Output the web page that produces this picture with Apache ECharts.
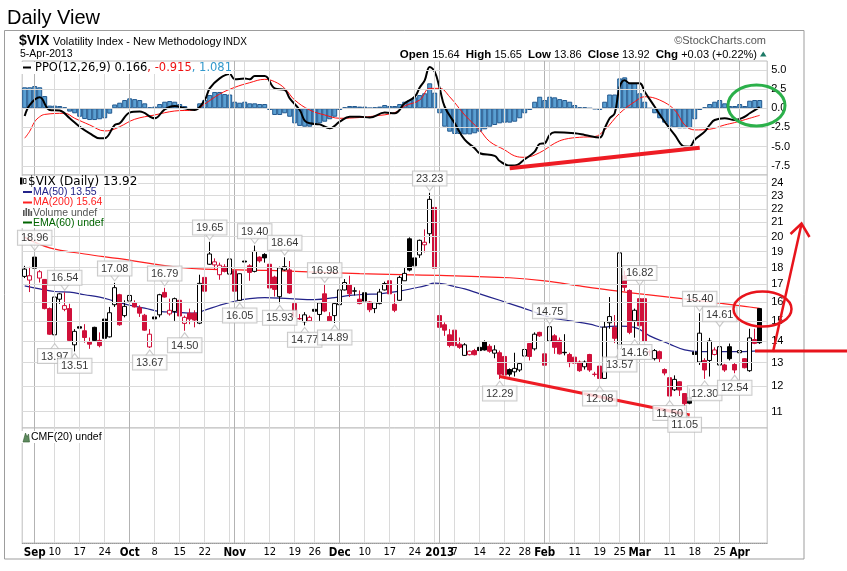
<!DOCTYPE html>
<html><head><meta charset="utf-8">
<script src="https://cdn.jsdelivr.net/npm/echarts@6/dist/echarts.min.js"></script>
<style>html,body{margin:0;padding:0;background:#fff}#c{width:847px;height:571px}</style>
</head><body><div id="c"></div><script>
// ---------- data ----------
const dates = ['2012-08-30','2012-08-31',
'2012-09-04','2012-09-05','2012-09-06','2012-09-07','2012-09-10','2012-09-11','2012-09-12','2012-09-13','2012-09-14','2012-09-17','2012-09-18','2012-09-19','2012-09-20','2012-09-21','2012-09-24','2012-09-25','2012-09-26','2012-09-27','2012-09-28',
'2012-10-01','2012-10-02','2012-10-03','2012-10-04','2012-10-05','2012-10-08','2012-10-09','2012-10-10','2012-10-11','2012-10-12','2012-10-15','2012-10-16','2012-10-17','2012-10-18','2012-10-19','2012-10-22','2012-10-23','2012-10-24','2012-10-25','2012-10-26','2012-10-31',
'2012-11-01','2012-11-02','2012-11-05','2012-11-06','2012-11-07','2012-11-08','2012-11-09','2012-11-12','2012-11-13','2012-11-14','2012-11-15','2012-11-16','2012-11-19','2012-11-20','2012-11-21','2012-11-23','2012-11-26','2012-11-27','2012-11-28','2012-11-29','2012-11-30',
'2012-12-03','2012-12-04','2012-12-05','2012-12-06','2012-12-07','2012-12-10','2012-12-11','2012-12-12','2012-12-13','2012-12-14','2012-12-17','2012-12-18','2012-12-19','2012-12-20','2012-12-21','2012-12-24','2012-12-26','2012-12-27','2012-12-28','2012-12-31',
'2013-01-02','2013-01-03','2013-01-04','2013-01-07','2013-01-08','2013-01-09','2013-01-10','2013-01-11','2013-01-14','2013-01-15','2013-01-16','2013-01-17','2013-01-18','2013-01-22','2013-01-23','2013-01-24','2013-01-25','2013-01-28','2013-01-29','2013-01-30','2013-01-31',
'2013-02-01','2013-02-04','2013-02-05','2013-02-06','2013-02-07','2013-02-08','2013-02-11','2013-02-12','2013-02-13','2013-02-14','2013-02-15','2013-02-19','2013-02-20','2013-02-21','2013-02-22','2013-02-25','2013-02-26','2013-02-27','2013-02-28',
'2013-03-01','2013-03-04','2013-03-05','2013-03-06','2013-03-07','2013-03-08','2013-03-11','2013-03-12','2013-03-13','2013-03-14','2013-03-15','2013-03-18','2013-03-19','2013-03-20','2013-03-21','2013-03-22','2013-03-25','2013-03-26','2013-03-27','2013-03-28',
'2013-04-01','2013-04-02','2013-04-03','2013-04-04','2013-04-05'];

const opens = [17.46,17.24,18.65,17.36,17.28,15.64,14.30,16.15,15.60,15.64,
 13.82,14.70,14.50,13.97,14.67,14.03,15.09,14.20,15.85,16.40,
 15.27,16.05,15.96,15.69,15.29,13.72,15.20,15.31,16.53,15.36,
 15.49,16.09,14.87,15.40,15.40,14.88,17.40,18.20,18.16,17.56,
 18.04,17.60,17.80,16.09,18.40,18.10,17.76,18.65,18.82,18.20,
 17.42,16.29,17.85,17.85,15.91,15.10,14.95,15.00,15.60,15.33,
 16.45,15.22,15.27,15.85,16.67,16.95,16.60,16.15,16.51,16.00,
 15.64,15.91,16.67,17.20,15.87,16.09,17.20,19.85,18.60,18.79,
 19.45,20.20,22.10,15.27,14.80,14.30,14.53,13.85,13.33,13.36,
 13.55,13.70,13.97,13.75,13.43,13.45,13.28,12.70,12.60,12.68,
 13.30,13.88,13.63,14.42,13.40,14.00,14.25,14.03,13.47,13.37,
 13.25,13.03,12.82,13.37,12.50,12.85,12.32,14.90,14.67,13.63,
 17.50,16.64,15.00,16.18,16.18,13.50,13.18,13.50,12.70,12.35,
 11.85,12.18,11.70,11.55,13.48,13.03,13.10,13.10,13.37,12.90,
 12.90,13.73,12.92,13.45,13.18,12.65,14.07,15.64];
const highs = [18.10,18.04,18.96,17.84,17.30,15.70,16.37,16.50,16.54,15.90,
 14.58,14.83,14.83,14.17,14.70,14.42,15.27,15.73,17.08,16.45,
 16.09,16.64,16.09,15.82,15.36,14.58,15.27,16.45,16.79,16.18,
 16.24,16.18,15.27,15.64,15.55,17.56,17.50,19.65,18.57,18.30,
 18.20,18.80,17.84,17.64,18.60,18.20,19.40,18.70,18.90,18.30,
 17.50,18.05,18.64,18.40,16.00,15.35,15.45,15.27,15.73,16.00,
 16.98,15.45,16.00,16.73,17.30,17.50,16.82,16.64,16.55,16.05,
 16.00,16.73,17.15,17.24,16.45,17.50,18.00,19.95,18.70,19.80,
 20.50,23.23,22.73,15.95,14.92,14.58,14.58,14.17,13.90,13.55,
 13.63,13.90,14.03,13.85,13.80,13.55,13.40,12.75,13.45,13.03,
 13.85,13.90,14.42,14.45,13.42,14.75,14.33,14.17,14.33,13.45,
 13.30,13.10,13.10,13.40,12.60,13.00,14.97,16.27,15.30,19.27,
 17.80,16.70,15.64,16.82,16.25,13.60,13.62,13.55,12.75,12.40,
 12.45,12.20,11.72,11.90,14.15,15.40,13.20,14.15,13.70,14.61,
 12.95,13.88,12.98,14.00,13.20,14.60,14.60,15.65];
const lows = [17.36,16.55,17.84,17.10,15.60,14.30,13.97,15.90,15.50,14.00,
 13.51,14.42,13.92,13.63,13.97,13.70,13.85,14.17,15.73,14.75,
 15.18,15.09,15.70,15.20,14.50,13.67,15.04,15.18,16.24,15.27,
 15.00,14.92,14.50,14.83,14.67,14.83,16.55,18.16,17.90,17.26,
 17.70,17.56,16.55,16.05,18.16,17.20,17.70,18.30,18.30,16.70,
 16.30,15.93,17.80,16.45,15.10,15.05,14.77,14.98,15.45,15.00,
 15.45,14.98,14.89,15.82,16.64,16.27,16.36,15.87,16.00,15.45,
 15.40,15.87,16.64,16.30,15.45,16.05,17.20,17.76,17.85,18.60,
 18.95,19.55,17.84,14.20,14.25,13.70,13.70,13.63,13.30,13.33,
 13.33,13.50,13.55,13.45,13.20,12.29,12.40,12.40,12.40,12.60,
 13.10,13.10,13.55,14.20,12.75,13.85,13.40,13.37,13.33,12.80,
 12.90,12.60,12.70,12.60,12.40,12.08,12.30,14.60,13.90,13.57,
 16.60,14.33,14.16,14.60,13.95,13.30,13.10,13.00,12.45,11.50,
 11.80,11.60,11.05,11.28,12.60,12.90,12.30,12.40,13.33,12.40,
 12.60,13.10,12.54,13.10,12.75,12.60,13.85,13.86];
const closes = [17.90,17.50,17.96,17.74,15.64,14.33,16.27,16.45,15.80,14.03,
 14.47,14.63,14.17,13.85,14.03,13.78,14.13,15.42,16.80,14.80,
 15.76,16.36,15.73,15.40,14.53,14.33,15.10,16.40,16.27,15.55,
 16.18,15.25,15.18,15.09,15.04,17.05,16.60,18.85,18.35,18.14,
 17.76,18.53,16.60,17.62,18.34,17.70,19.02,18.41,18.60,16.78,
 16.70,17.98,18.05,16.50,15.20,15.12,15.31,15.18,15.50,15.95,
 15.51,15.00,15.91,16.67,17.10,16.45,16.62,15.91,16.05,15.58,
 15.96,16.55,17.04,16.45,15.55,17.40,17.64,17.84,18.10,19.75,
 19.62,22.72,17.96,14.67,14.53,13.79,13.78,13.70,13.82,13.52,
 13.36,13.55,13.58,13.52,13.58,12.50,12.46,12.50,12.75,12.96,
 13.60,13.28,14.33,14.25,12.89,14.70,13.70,13.40,13.45,13.00,
 12.98,12.65,13.03,12.68,12.49,12.32,14.68,15.22,14.13,18.92,
 16.82,14.42,15.55,14.75,14.00,13.48,13.55,13.18,12.55,11.60,
 12.28,11.84,11.30,11.32,13.37,14.38,12.68,14.00,13.58,13.73,
 12.68,13.18,12.68,13.55,12.78,14.15,13.89,13.92];

const ma50Idx = [0,3,6,9,12,15,18,21,24,27,30,34,36,39,42,45,48,53,58,62,65,68,71,75,78,80,82,84,86,88,91,95,99,101,105,109,113,116,117,119,122,125,129,132,135,139,143,147];
const ma50Val = [16.9,16.73,16.58,16.55,16.4,16.27,16.04,15.82,15.67,15.49,15.45,15.4,15.55,15.82,16.04,16.18,16.24,16.18,16.13,16.24,16.36,16.42,16.45,16.6,16.78,16.9,17.06,17.0,16.86,16.73,16.45,16.09,15.73,15.55,15.18,15.0,14.83,14.67,14.72,14.73,14.67,14.25,13.85,13.58,13.5,13.5,13.5,13.55];
const ma200Idx = [0,5,12,19,25,31,36,49,67,83,97,104,111,117,124,131,137,144,147];
const ma200Val = [19.95,19.25,18.85,18.55,18.25,18.0,17.9,17.82,17.62,17.52,17.38,17.2,16.9,16.66,16.42,16.2,16.0,15.76,15.65];

const ppoIdx = [0,1,3,5,7,9,11,13,15,16,18,19,21,23,26,28,30,32,34,36,37,39,41,42,44,45,46,48,50,52,53,55,56,57,59,61,63,65,67,69,72,74,76,78,79,80,81,82,83,84,86,88,90,91,94,95,97,98,100,102,103,104,105,106,110,112,115,116,117,118,119,120,121,123,124,126,128,130,132,133,134,136,137,138,140,142,144,145,147];
const ppoVal = [-1.0,0.43,1.43,-0.22,-0.3,-1.3,-2.4,-3.26,-3.9,-3.9,-2.18,-1.96,-0.56,-0.43,-1.3,-0.13,0.3,0.0,-0.22,1.08,2.6,3.9,4.47,3.78,3.9,3.78,4.2,4.2,2.6,2.4,1.3,-0.22,-1.6,-1.96,-2.1,-2.6,-1.75,-1.1,-1.1,-1.2,-0.56,-0.65,0.65,1.5,2.7,3.65,5.4,4.78,2.6,0.2,-1.96,-4.1,-5.2,-5.87,-6.2,-6.87,-7.47,-7.47,-6.65,-5.65,-4.65,-4.56,-3.47,-3.13,-3.26,-3.47,-3.82,-2.6,-1.3,-0.65,2.82,3.65,3.26,3.26,2.17,0.2,-1.75,-3.47,-4.99,-5.0,-4.1,-3.04,-2.17,-1.53,-1.3,-1.53,-1.1,-0.65,0.166];
const sigIdx = [0,1,2,3,4,8,10,13,16,17,19,22,26,30,34,36,39,42,45,48,50,52,54,57,60,63,67,70,74,76,79,81,83,85,88,91,93,96,98,100,103,106,108,111,114,116,119,122,124,127,130,132,134,137,140,142,145,147];
const sigVal = [-3.9,-3.0,-1.75,-1.1,-0.8,-0.65,-1.3,-2.17,-2.95,-2.9,-2.4,-1.43,-0.87,-0.35,-0.22,0.56,1.86,2.73,3.34,3.78,3.47,2.6,1.08,-0.22,-0.87,-1.3,-1.2,-1.0,-0.56,0.3,1.08,2.6,2.6,1.5,-0.87,-2.82,-4.34,-5.43,-6.21,-6.39,-5.78,-4.56,-4.04,-3.78,-3.69,-2.82,-0.65,0.86,1.51,1.08,-0.22,-2.17,-2.82,-2.73,-2.17,-1.86,-1.3,-0.915];
const ppoHist = [2.74,2.74,2.9,2.74,1.6,0.35,0.35,0.3,0.13,-0.43,
 -0.65,-1.1,-1.4,-1.53,-1.53,-1.43,-1.3,-0.7,0.5,0.73,
 1.08,1.3,1.2,1.08,0.65,0.13,0.22,0.56,0.86,0.95,
 0.86,0.56,0.3,-0.13,-0.13,0.65,1.08,1.73,2.13,2.13,
 1.86,1.8,0.86,0.73,0.86,0.65,0.65,0.56,0.56,-0.22,
 -0.87,-0.87,-0.65,-1.1,-1.96,-2.3,-2.4,-2.4,-2.18,-1.96,
 -1.75,-1.43,-1.1,-0.22,0.13,0.3,0.3,0.22,0.22,0.05,
 0.13,0.22,0.43,0.3,0.3,0.56,0.86,1.08,1.43,1.73,
 1.96,3.26,2.04,-0.65,-2.4,-3.05,-3.35,-3.35,-3.4,-3.4,
 -3.26,-3.05,-2.74,-2.4,-2.18,-1.96,-1.87,-1.87,-1.75,-1.3,
 -0.65,-0.22,0.86,1.51,1.08,1.51,1.43,1.2,1.08,0.86,
 0.43,0.13,0.13,0.0,-0.13,-0.22,0.86,1.8,1.8,3.9,
 4.04,3.26,3.26,1.96,0.86,0.0,-0.65,-1.3,-1.87,-2.4,
 -2.5,-2.61,-2.61,-2.61,-1.43,-0.22,0.13,0.56,0.86,1.08,
 0.65,0.3,0.3,0.56,0.3,0.99,1.08,1.081];

const highLabelIdx = [2,8,18,28,37,46,52,60,81,105,123,135,139];
const lowLabelIdx = [6,10,25,32,43,51,56,62,95,115,119,122,129,132,136,142];

const weekTicks = ['2012-09-04','2012-09-10','2012-09-17','2012-09-24','2012-10-01','2012-10-08','2012-10-15','2012-10-22','2012-10-31','2012-11-05','2012-11-12','2012-11-19','2012-11-26','2012-12-03','2012-12-10','2012-12-17','2012-12-24','2012-12-31','2013-01-07','2013-01-14','2013-01-22','2013-01-28','2013-02-04','2013-02-11','2013-02-19','2013-02-25','2013-03-04','2013-03-11','2013-03-18','2013-03-25','2013-04-01'];
const monthTicks = ['2012-09-04','2012-10-01','2012-11-01','2012-12-03','2013-01-02','2013-02-01','2013-03-01','2013-04-01'];
const tickLabelDates = ['2012-09-04','2012-09-10','2012-09-17','2012-09-24','2012-10-01','2012-10-08','2012-10-15','2012-10-22','2012-11-01','2012-11-12','2012-11-19','2012-11-26','2012-12-03','2012-12-10','2012-12-17','2012-12-24','2013-01-02','2013-01-07','2013-01-14','2013-01-22','2013-01-28','2013-02-01','2013-02-11','2013-02-19','2013-02-25','2013-03-01','2013-03-11','2013-03-18','2013-03-25','2013-04-01'];
const tickLabels = ['Sep','10','17','24','Oct','8','15','22','Nov','12','19','26','Dec','10','17','24','2013','7','14','22','28','Feb','11','19','25','Mar','11','18','25','Apr'];
const boldTickLabels = ['Sep','Oct','Nov','Dec','2013','Feb','Mar','Apr'];
const priceTicks = [11,12,13,14,15,16,17,18,19,20,21,22,23,24];
const ppoTicks = [-7.5,-5.0,-2.5,0.0,2.5,5.0];

const hdr = {open:'15.64', high:'15.65', low:'13.86', close:'13.92', chg:'+0.03 (+0.22%)'};
const ppoLegend = ['0.166','-0.915','1.081'];
const maLegend = {ma50:'13.55', ma200:'15.64', last:'13.92'};

// ---------- styling ----------
const FA = "'Liberation Sans', Arial, sans-serif";
const FV = "'DejaVu Sans', Verdana, sans-serif";
const FN = "'Liberation Sans Narrow','DejaVu Sans Condensed','Liberation Sans',sans-serif";
const RED = '#d0103a';
const cats = dates.concat(['']);
const labelMap = {};
tickLabelDates.forEach((d,k)=>{labelMap[d]=tickLabels[k];});

const candleData = dates.map((d,i)=>{
  const o=opens[i], c=closes[i];
  const col = (i>0 && c < closes[i-1]) ? RED : '#000';
  const fill = c >= o ? '#fff' : col;
  return {value:[o,c,lows[i],highs[i]], itemStyle:{color:fill,color0:fill,borderColor:col,borderColor0:col,borderWidth:1}};
});
const pairs = (ix, vs) => ix.map((x,k)=>[x, vs[k]]);

function vLines(){
  return weekTicks.map(d=>({xAxis:d, lineStyle:{color:'#dadada'}}))
    .concat(monthTicks.map(d=>({xAxis:d, lineStyle:{color:'#b3b3b3'}})));
}
function hLines(vals, fmt){
  return vals.map(v=>({yAxis:v, lineStyle:{color:'#dadada'},
    label:{show:true, position:'end', formatter:fmt(v), color:'#000', fontSize:11, fontFamily:FA, distance:4}}));
}
function gridSeries(k, extra){
  return {type:'line', xAxisIndex:k, yAxisIndex:k, data:[], silent:true, z:1,
    markLine:{silent:true, symbol:['none','none'], animation:false,
      label:{show:false}, lineStyle:{width:1, type:'solid'}, emphasis:{disabled:true},
      data: vLines().concat(extra||[])}};
}
const catAxis = (g) => ({type:'category', gridIndex:g, data:cats, boundaryGap:true,
  axisLine:{show:false}, axisTick:{show:false}, axisLabel:{show:false}, splitLine:{show:false}});

const xAxes = [catAxis(0), catAxis(1), {
  type:'category', gridIndex:2, data:cats, boundaryGap:true,
  axisLine:{show:true, lineStyle:{color:'#9a9a9a', type:'dotted'}},
  axisTick:{show:false}, splitLine:{show:false},
  axisLabel:{show:true, margin:4, color:'#000', fontSize:11, fontFamily:FN,
    interval:(i, v)=> labelMap[v] !== undefined,
    formatter:(v)=>{const t=labelMap[v]; if(t===undefined) return ''; return boldTickLabels.indexOf(t)>=0?'{b|'+t+'}':'{n|'+t+'}';},
    rich:{b:{fontWeight:'bold', fontSize:11.5, fontFamily:FN, color:'#000'}, n:{fontSize:11, fontFamily:FN, color:'#000'}}}
}];

const option = {
  animation:false,
  backgroundColor:'#fff',
  grid:[
    {left:22.2, width:745, top:61, height:114, show:true, borderColor:'#bdbdbd', borderWidth:1, backgroundColor:'#fff'},
    {left:22.2, width:745, top:175, height:253, show:true, borderColor:'#bdbdbd', borderWidth:1, backgroundColor:'#fff'},
    {left:22.2, width:745, top:428, height:115, show:true, borderColor:'#bdbdbd', borderWidth:1, backgroundColor:'#fff'}
  ],
  xAxis: xAxes,
  yAxis:[
    {type:'value', gridIndex:0, min:-8.7, max:6.17, show:false},
    {type:'log', logBase:10, gridIndex:1, min:10.40, max:24.69, show:false},
    {type:'value', gridIndex:2, min:0, max:1, show:false}
  ],
  series:[
    gridSeries(0, hLines(ppoTicks, v=>v.toFixed(1))),
    gridSeries(1, hLines(priceTicks, v=>String(v))),
    gridSeries(2),
    {type:'bar', name:'hist', xAxisIndex:0, yAxisIndex:0, data:ppoHist, barWidth:5, z:2,
      itemStyle:{color:'#5a9fd2', borderColor:'#23598f', borderWidth:1}},
    {type:'line', name:'signal', xAxisIndex:0, yAxisIndex:0, data:pairs(sigIdx,sigVal), showSymbol:false, smooth:0.4, z:3,
      lineStyle:{color:'#ff1010', width:1}},
    {type:'line', name:'ppo', xAxisIndex:0, yAxisIndex:0, data:pairs(ppoIdx,ppoVal), showSymbol:false, smooth:0.4, z:4,
      lineStyle:{color:'#000', width:2}},
    {type:'line', xAxisIndex:0, yAxisIndex:0, data:[], z:8, silent:true,
      markLine:{silent:true, symbol:['none','none'], animation:false, label:{show:false},
        lineStyle:{color:'#ee1c24', width:4, type:'solid'},
        data:[[{coord:[97,-7.82]},{coord:[135,-5.14]}]]}},
    {type:'line', name:'MA200', xAxisIndex:1, yAxisIndex:1, data:pairs(ma200Idx,ma200Val), showSymbol:false, smooth:0.4, z:2,
      lineStyle:{color:'#ff2020', width:1.2}},
    {type:'line', name:'MA50', xAxisIndex:1, yAxisIndex:1, data:pairs(ma50Idx,ma50Val), showSymbol:false, smooth:0.4, z:2,
      lineStyle:{color:'#24248a', width:1.2}},
    {type:'candlestick', xAxisIndex:1, yAxisIndex:1, data:candleData, barWidth:4, z:3},
    {type:'scatter', xAxisIndex:1, yAxisIndex:1, z:6, silent:true,
      symbol:'path://M0,0L10,0L5,7Z', symbolSize:[9,6], symbolOffset:[0,-5],
      itemStyle:{color:'#fff', borderColor:'#bdbdbd', borderWidth:1},
      label:{show:true, position:'top', distance:-1, formatter:p=>p.value[1].toFixed(2),
        backgroundColor:'#fff', borderColor:'#bdbdbd', borderWidth:1, padding:[2,3,1,3], fontSize:11, color:'#000', fontFamily:FA},
      data: highLabelIdx.map(i=>[i, highs[i]])},
    {type:'scatter', xAxisIndex:1, yAxisIndex:1, z:6, silent:true,
      symbol:'path://M5,0L10,7L0,7Z', symbolSize:[9,6], symbolOffset:[0,5],
      itemStyle:{color:'#fff', borderColor:'#bdbdbd', borderWidth:1},
      label:{show:true, position:'bottom', distance:-1, formatter:p=>p.value[1].toFixed(2),
        backgroundColor:'#fff', borderColor:'#bdbdbd', borderWidth:1, padding:[2,3,1,3], fontSize:11, color:'#000', fontFamily:FA},
      data: lowLabelIdx.map(i=>[i, lows[i]])},
    {type:'line', xAxisIndex:1, yAxisIndex:1, data:[], z:8, silent:true,
      markLine:{silent:true, symbol:['none','none'], animation:false, label:{show:false},
        lineStyle:{color:'#ee1c24', width:3, type:'solid'},
        data:[[{coord:[95,12.4]},{coord:[132.5,10.87]}]]}}
  ],
  graphic:[
    {type:'rect', z:100, silent:true, shape:{x:4.5,y:30.5,width:799.5,height:528.5}, style:{fill:null, stroke:'#9d9d9d', lineWidth:1}},
    {type:'text', z:100, x:7, y:18, style:{text:'Daily View', font:'20px '+FA, fill:'#000', verticalAlign:'middle'}},
    {type:'text', z:100, x:19, y:41, style:{text:'$VIX', font:'bold 14px '+FA, fill:'#000', verticalAlign:'middle'}},
    {type:'text', z:100, x:53, y:41.5, style:{text:'Volatility Index - New Methodology', font:'11px '+FA, fill:'#000', verticalAlign:'middle'}},
    {type:'text', z:100, x:223, y:42, style:{text:'INDX', font:'10px '+FA, fill:'#000', verticalAlign:'middle'}},
    {type:'text', z:100, x:20, y:54.5, style:{text:'5-Apr-2013', font:'10.5px '+FA, fill:'#000', verticalAlign:'middle'}},
    {type:'text', z:100, x:766, y:41, style:{text:'\u00A9StockCharts.com', font:'11px '+FA, fill:'#555', align:'right', verticalAlign:'middle'}},
    {type:'text', z:100, x:757, y:54.5, style:{
      text:'{b|Open} '+hdr.open+'  {b|High} '+hdr.high+'  {b|Low} '+hdr.low+'  {b|Close} '+hdr.close+'  {b|Chg} '+hdr.chg,
      font:'11px '+FA, fill:'#000', align:'right', verticalAlign:'middle',
      rich:{b:{fontWeight:'bold', fontSize:11.5, fontFamily:FA, fill:'#000'}}}},
    {type:'polygon', z:100, shape:{points:[[760,56.5],[766.5,56.5],[763.25,51.5]]}, style:{fill:'#1d7a66'}},
    // PPO legend
    {type:'rect', z:99, shape:{x:21,y:62,width:212,height:12}, style:{fill:'#fff'}},
    {type:'line', z:100, shape:{x1:23,y1:67.5,x2:31,y2:67.5}, style:{stroke:'#000', lineWidth:2}},
    {type:'text', z:100, x:35, y:68, style:{
      text:'{k|PPO(12,26,9) '+ppoLegend[0]+'}{r|, '+ppoLegend[1]+'}{u|, '+ppoLegend[2]+'}',
      font:'11.5px '+FV, verticalAlign:'middle',
      rich:{k:{fill:'#000', fontSize:11.5, fontFamily:FV}, r:{fill:'#ee1111', fontSize:11.5, fontFamily:FV}, u:{fill:'#3399cc', fontSize:11.5, fontFamily:FV}}}},
    // main legend
    {type:'rect', z:99, shape:{x:19,y:176,width:119,height:11}, style:{fill:'#fff'}},
    {type:'rect', z:99, shape:{x:21,y:187,width:78,height:41}, style:{fill:'#fff'}},
    {type:'rect', z:100, shape:{x:20,y:177.5,width:2.5,height:7}, style:{fill:'#000'}},
    {type:'rect', z:100, shape:{x:23.5,y:178.5,width:2.5,height:5}, style:{fill:'#fff', stroke:'#000', lineWidth:0.8}},
    {type:'text', z:100, x:28, y:182, style:{text:'$VIX (Daily) '+maLegend.last, font:'12px '+FV, fill:'#000', verticalAlign:'middle'}},
    {type:'line', z:100, shape:{x1:23,y1:192,x2:32,y2:192}, style:{stroke:'#24248a', lineWidth:2}},
    {type:'text', z:100, x:33, y:192, style:{text:'MA(50) '+maLegend.ma50, font:'10.5px '+FA, fill:'#24248a', verticalAlign:'middle'}},
    {type:'line', z:100, shape:{x1:23,y1:202.5,x2:32,y2:202.5}, style:{stroke:'#ff2020', lineWidth:2}},
    {type:'text', z:100, x:33, y:202.5, style:{text:'MA(200) '+maLegend.ma200, font:'10.5px '+FA, fill:'#ff2020', verticalAlign:'middle'}},
    {type:'rect', z:100, shape:{x:23,y:210,width:1.6,height:6}, style:{fill:'#555'}},
    {type:'rect', z:100, shape:{x:25.5,y:208,width:1.6,height:8}, style:{fill:'#555'}},
    {type:'rect', z:100, shape:{x:28,y:209,width:1.6,height:7}, style:{fill:'#555'}},
    {type:'rect', z:100, shape:{x:30.5,y:211,width:1.6,height:5}, style:{fill:'#555'}},
    {type:'text', z:100, x:33, y:213, style:{text:'Volume undef', font:'10.5px '+FA, fill:'#555', verticalAlign:'middle'}},
    {type:'line', z:100, shape:{x1:23,y1:222.5,x2:32,y2:222.5}, style:{stroke:'#006400', lineWidth:2}},
    {type:'text', z:100, x:33, y:223, style:{text:'EMA(60) undef', font:'10.5px '+FA, fill:'#006400', verticalAlign:'middle'}},
    // CMF legend
    {type:'rect', z:99, shape:{x:21,y:431,width:70,height:12}, style:{fill:'#fff'}},
    {type:'polygon', z:100, shape:{points:[[23,442],[25.5,433],[27,437],[28.5,434],[29.5,442]]}, style:{fill:'#5e8a5e', stroke:'#2f5a2f', lineWidth:0.6}},
    {type:'text', z:100, x:31, y:437.5, style:{text:'CMF(20) undef', font:'10.5px '+FA, fill:'#000', verticalAlign:'middle'}},
    // hand-drawn annotations
    {type:'ellipse', z:110, shape:{cx:756.5, cy:105.5, rx:28.5, ry:20.5}, style:{fill:null, stroke:'#2bb04a', lineWidth:3}},
    {type:'ellipse', z:110, shape:{cx:762.5, cy:309, rx:29, ry:17.5}, style:{fill:null, stroke:'#e8141c', lineWidth:2.5}},
    {type:'line', z:110, shape:{x1:755, y1:351, x2:847, y2:351}, style:{stroke:'#e8141c', lineWidth:3}},
    {type:'line', z:110, shape:{x1:773, y1:352, x2:801.5, y2:224}, style:{stroke:'#e8141c', lineWidth:2.5}},
    {type:'polyline', z:110, shape:{points:[[790.5,234],[801.5,223.5],[809.5,237]]}, style:{fill:null, stroke:'#e8141c', lineWidth:2.5}}
  ]
};
const chart = echarts.init(document.getElementById('c'), null, {renderer:'canvas'});
chart.setOption(option);
</script></body></html>
